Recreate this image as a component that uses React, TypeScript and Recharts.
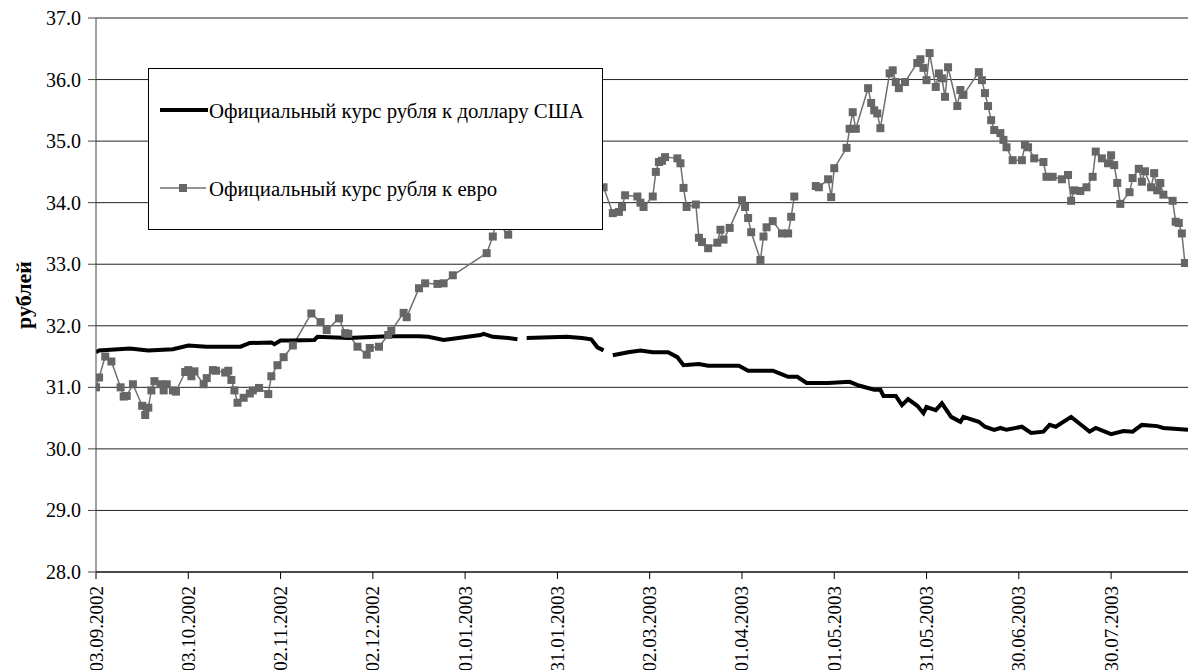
import React from 'react';
import { LineChart, Line, XAxis, YAxis, CartesianGrid, Legend } from 'recharts';

// day offsets counted from 03.09.2002
const tickDays = [0, 30, 60, 90, 120, 150, 180, 210, 240, 270, 300, 330];
const tickLabels = [
  '03.09.2002', '03.10.2002', '02.11.2002', '02.12.2002', '01.01.2003', '31.01.2003',
  '02.03.2003', '01.04.2003', '01.05.2003', '31.05.2003', '30.06.2003', '30.07.2003',
];
const yTicks = [28, 29, 30, 31, 32, 33, 34, 35, 36, 37];

const usdDays = [
  0, 1, 11, 17, 25, 30, 36, 47, 50, 57, 58, 60, 63, 71, 72, 82, 95, 105, 108, 113,
  116, 125, 126, 129, 134, 137, 138, 140, 153, 158, 161, 163, 165, 166, 168, 173, 177, 181, 186, 189,
  191, 196, 199, 209, 212, 220, 222, 225, 228, 231, 238, 245, 248, 253, 255, 256, 260, 262, 264, 267,
  269, 270, 273, 275, 278, 281, 282, 287, 289, 292, 294, 296, 301, 304, 308, 310, 312, 317, 320, 323,
  325, 330, 334, 337, 340, 345, 347, 355,
];
const usdValues = [
  31.57, 31.6, 31.63, 31.6, 31.62, 31.68, 31.66, 31.66, 31.72, 31.73, 31.7, 31.76, 31.76, 31.77, 31.82, 31.8, 31.83, 31.83, 31.82, 31.77,
  31.79, 31.85, 31.87, 31.82, 31.8, 31.78, null, 31.8, 31.82, 31.8, 31.78, 31.65, 31.6, null, 31.52, 31.57, 31.6, 31.57, 31.57, 31.49,
  31.36, 31.38, 31.35, 31.35, 31.27, 31.27, 31.23, 31.17, 31.17, 31.07, 31.07, 31.09, 31.03, 30.96, 30.96, 30.86, 30.86, 30.71, 30.81, 30.7,
  30.58, 30.68, 30.63, 30.74, 30.52, 30.44, 30.52, 30.44, 30.36, 30.31, 30.34, 30.31, 30.36, 30.26, 30.28, 30.39, 30.36, 30.52, 30.4, 30.28,
  30.34, 30.24, 30.29, 30.28, 30.39, 30.37, 30.34, 30.31,
];

const eurDays = [
  0, 1, 3, 5, 8, 9, 10, 12, 15, 16, 17, 18, 19, 21, 22, 23, 25, 26, 29, 30,
  31, 32, 35, 36, 38, 39, 42, 43, 44, 45, 46, 48, 50, 51, 53, 56, 57, 59, 61, 64,
  70, 73, 75, 79, 81, 82, 85, 88, 89, 92, 95, 96, 100, 101, 105, 107, 111, 113, 116, 127,
  129, 130, 134, 135, 137, 142, 148, 154, 160, 165, 168, 170, 171, 172, 176, 177, 178, 181, 182, 183,
  184, 185, 189, 190, 191, 192, 195, 196, 197, 199, 202, 203, 204, 206, 210, 211, 212, 213, 216, 217,
  218, 220, 223, 225, 226, 227, 228, 234, 235, 238, 239, 240, 244, 245, 246, 247, 251, 252, 253, 254,
  255, 258, 259, 260, 261, 263, 267, 268, 269, 270, 271, 273, 274, 275, 276, 277, 280, 281, 282, 287,
  288, 289, 290, 291, 292, 294, 295, 296, 298, 301, 302, 303, 305, 308, 309, 311, 314, 316, 317, 318,
  320, 322, 324, 325, 327, 329, 330, 331, 332, 333, 336, 337, 339, 340, 341, 343, 344, 345, 346, 347,
  350, 351, 352, 353, 354,
];
const eurValues = [
  31.0, 31.16, 31.5, 31.42, 31.0, 30.85, 30.86, 31.05, 30.7, 30.55, 30.67, 30.95, 31.1, 31.05, 30.95, 31.05, 30.95, 30.93, 31.25, 31.28,
  31.18, 31.26, 31.05, 31.15, 31.28, 31.27, 31.24, 31.27, 31.12, 30.95, 30.75, 30.83, 30.9, 30.95, 30.99, 30.89, 31.18, 31.36, 31.49, 31.68,
  32.2, 32.06, 31.93, 32.12, 31.88, 31.87, 31.66, 31.53, 31.64, 31.66, 31.85, 31.92, 32.21, 32.14, 32.61, 32.69, 32.68, 32.69, 32.82, 33.18,
  33.45, 33.7, 33.48, 33.62, 34.0, 34.2, 34.4, 34.5, 34.4, 34.25, 33.83, 33.85, 33.93, 34.12, 34.1, 34.0, 33.93, 34.1, 34.5, 34.66,
  34.68, 34.74, 34.72, 34.64, 34.24, 33.93, 33.97, 33.43, 33.36, 33.26, 33.35, 33.56, 33.4, 33.59, 34.04, 33.93, 33.75, 33.52, 33.07, 33.45,
  33.6, 33.7, 33.5, 33.5, 33.77, 34.1, null, 34.27, 34.25, 34.38, 34.09, 34.56, 34.89, 35.2, 35.47, 35.2, 35.86, 35.62, 35.5, 35.45,
  35.21, 36.1, 36.15, 35.96, 35.86, 35.96, 36.27, 36.33, 36.19, 35.99, 36.43, 35.88, 36.1, 36.02, 35.72, 36.2, 35.57, 35.83, 35.75, 36.12,
  35.99, 35.78, 35.57, 35.34, 35.18, 35.13, 35.02, 34.9, 34.69, 34.69, 34.94, 34.9, 34.72, 34.66, 34.42, 34.42, 34.38, 34.45, 34.03, 34.2,
  34.19, 34.25, 34.42, 34.83, 34.72, 34.64, 34.77, 34.61, 34.32, 33.98, 34.17, 34.4, 34.55, 34.34, 34.51, 34.25, 34.48, 34.2, 34.32, 34.13,
  34.03, 33.69, 33.67, 33.5, 33.02,
];

const usdData = usdDays.map((d, i) => ({ d, v: usdValues[i] }));
const eurData = eurDays.map((d, i) => ({ d, v: eurValues[i] }));

const FONT = 'Liberation Serif';

const SquareDot = (props: any) => {
  const { cx, cy, value, index } = props;
  if (cx == null || cy == null || value == null) return <g key={`e${index}`} />;
  return <rect key={`e${index}`} x={cx - 4} y={cy - 4} width={8} height={8} fill="#666666" />;
};

const DateTick = (props: any) => {
  const { x, y, payload } = props;
  const label = tickLabels[tickDays.indexOf(payload.value)];
  return (
    <text
      x={x}
      y={y}
      transform={`rotate(-90 ${x} ${y})`}
      textAnchor="end"
      dominantBaseline="central"
      style={{ fontFamily: FONT, fontSize: 19 }}
      fill="#000"
    >
      {label}
    </text>
  );
};

const ValueTick = (props: any) => {
  const { x, y, payload } = props;
  return (
    <text x={x} y={y} textAnchor="end" dominantBaseline="central" style={{ fontFamily: FONT, fontSize: 20 }} fill="#000">
      {Number(payload.value).toFixed(1)}
    </text>
  );
};

const renderLegend = () => (
  <div style={{ width: 455, height: 162, background: '#fff', border: '1px solid #000', boxSizing: 'border-box' }}>
    <svg width={453} height={160} style={{ display: 'block' }}>
      <line x1={11} y1={41} x2={59} y2={41} stroke="#000" strokeWidth={4} />
      <text x={60} y={41} dominantBaseline="central" style={{ fontFamily: FONT, fontSize: 20.8 }} fill="#000">
        Официальный курс рубля к доллару США
      </text>
      <line x1={11} y1={119} x2={57} y2={119} stroke="#707070" strokeWidth={1.5} />
      <rect x={30} y={115} width={8} height={8} fill="#666666" />
      <text x={60} y={119} dominantBaseline="central" style={{ fontFamily: FONT, fontSize: 20.8 }} fill="#000">
        Официальный курс рубля к евро
      </text>
    </svg>
  </div>
);

export default function App() {
  return (
    <div style={{ width: 1188, height: 670, background: '#fff', fontFamily: FONT }}>
      <style>{'body{margin:0}'}</style>
      <LineChart width={1188} height={670} margin={{ top: 18, right: 0, bottom: 0, left: 0 }}>
        <CartesianGrid vertical={false} stroke="#222" strokeOpacity={1} />
        <XAxis
          type="number"
          dataKey="d"
          domain={[0, 355]}
          ticks={tickDays}
          interval={0}
          height={98}
          tickSize={7}
          tickMargin={7}
          tick={<DateTick />}
          axisLine={{ stroke: '#000' }}
          tickLine={{ stroke: '#000' }}
          allowDataOverflow
        />
        <YAxis
          type="number"
          domain={[28, 37]}
          ticks={yTicks}
          interval={0}
          width={96}
          tickSize={8}
          tickMargin={7}
          tick={<ValueTick />}
          axisLine={{ stroke: '#444' }}
          tickLine={{ stroke: '#444' }}
          label={{
            value: 'рублей',
            angle: -90,
            position: 'insideLeft',
            offset: 23,
            style: { fontSize: 22, fontWeight: 'bold', fill: '#000', fontFamily: FONT, textAnchor: 'middle' },
          }}
        />
        <Line
          data={eurData}
          dataKey="v"
          stroke="#707070"
          strokeWidth={1.5}
          dot={SquareDot}
          activeDot={false}
          isAnimationActive={false}
          connectNulls={false}
        />
        <Line
          data={usdData}
          dataKey="v"
          stroke="#000"
          strokeWidth={4}
          dot={false}
          activeDot={false}
          isAnimationActive={false}
          connectNulls={false}
        />
        <Legend
          content={renderLegend}
          layout="vertical"
          align="center"
          verticalAlign="middle"
          wrapperStyle={{ left: 148, top: 68, width: 455, height: 162 }}
        />
      </LineChart>
    </div>
  );
}
